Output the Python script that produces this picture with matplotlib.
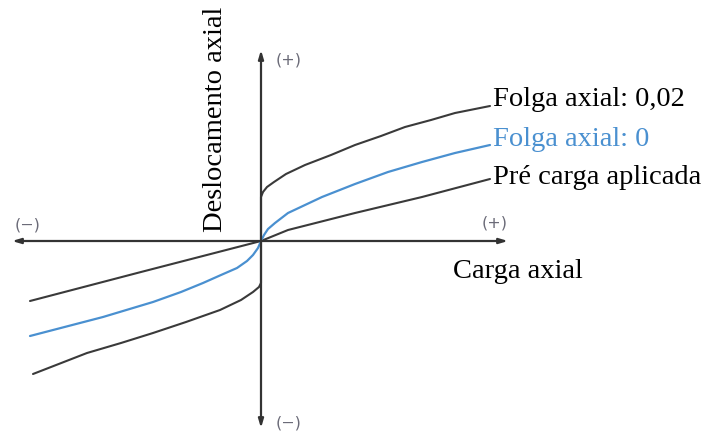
import matplotlib.pyplot as plt

# ── Colours ────────────────────────────────────────────────────────────────
DARK = "#3a3a3a"
BLUE = "#4a90d0"
SIGN = "#6b6b78"

# ── Curves (load, displacement), origin at the axes cross
# Folga axial 0,02 : jumps at zero load, then rises
gap_x = [-228, -174, -140, -108, -75, -41, -20, -8, -2, 0, 0, 0, 2, 6, 13, 25,
         44, 70, 94, 120, 144, 170, 194, 229]
gap_y = [-133, -112, -102, -92, -81, -69, -59, -51, -46, -42, 0, 44, 49, 54, 59, 67,
         76, 86, 96, 105, 114, 121, 128, 135]

# Folga axial 0
zero_x = [-231, -158, -108, -80, -58, -40, -24, -14, -8, -3, 0, 3, 7, 14, 27, 44,
          61, 94, 127, 161, 194, 229]
zero_y = [-95, -76, -61, -51, -42, -34, -27, -20, -14, -7, 0, 6, 12, 18, 28, 36,
          44, 57, 69, 79, 88, 96]

# Pré carga aplicada
pre_x = [-231, -120, 0, 27, 94, 161, 229]
pre_y = [-60, -31, 0, 11, 28, 44, 62]

# axis extents
x_neg, x_pos = -249, 247
y_neg, y_pos = -187, 191

fig = plt.figure(figsize=(7.06, 4.33), dpi=100)
ax = fig.add_axes([0, 0, 1, 1])
ax.set_xlim(-261, 445)
ax.set_ylim(-192, 241)
ax.axis("off")

# ── Axes with arrows ───────────────────────────────────────────────────────
arrow = dict(arrowstyle="-|>,head_length=0.5,head_width=0.15", color="#333333",
             lw=1.6, shrinkA=0, shrinkB=0)
ax.annotate("", xy=(x_pos, 0), xytext=(0, 0), arrowprops=arrow)
ax.annotate("", xy=(x_neg, 0), xytext=(0, 0), arrowprops=arrow)
ax.annotate("", xy=(0, y_pos), xytext=(0, 0), arrowprops=arrow)
ax.annotate("", xy=(0, y_neg), xytext=(0, 0), arrowprops=arrow)

# ── Curves ─────────────────────────────────────────────────────────────────
ax.plot(gap_x, gap_y, color=DARK, lw=1.5, solid_capstyle="round", solid_joinstyle="round")
ax.plot(pre_x, pre_y, color=DARK, lw=1.5, solid_capstyle="round")
ax.plot(zero_x, zero_y, color=BLUE, lw=1.6, solid_capstyle="round", solid_joinstyle="round")

# ── Sign labels ────────────────────────────────────────────────────────────
sign_kw = dict(fontsize=11.5, color=SIGN, family="DejaVu Sans", va="center", ha="center")
ax.text(28, 181, "(+)", **sign_kw)
ax.text(28, -182, "(\u2212)", **sign_kw)
ax.text(-233, 16, "(\u2212)", **sign_kw)
ax.text(234, 18, "(+)", **sign_kw)

# ── Text labels ────────────────────────────────────────────────────────────
txt_kw = dict(fontsize=20.5, family="Liberation Serif", va="center", ha="left")
ax.text(232, 141, "Folga axial: 0,02", color="black", **txt_kw)
ax.text(232, 101, "Folga axial: 0", color=BLUE, **txt_kw)
ax.text(232, 64, "Pré carga aplicada", color="black", **txt_kw)
ax.text(192, -30, "Carga axial", color="black", **txt_kw)
ax.text(-46, 122, "Deslocamento axial", color="black", rotation=90,
        fontsize=20.5, family="Liberation Serif", va="center", ha="center")

fig.savefig("out.png", dpi=100, facecolor="white")
